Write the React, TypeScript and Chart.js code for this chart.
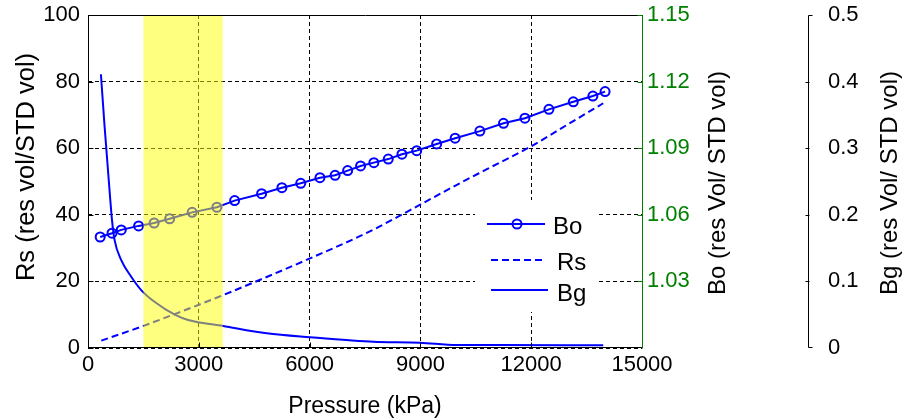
import React, { useEffect, useRef } from 'react';
import { Chart, registerables } from 'chart.js';

Chart.register(...registerables);

// ---- data ----
const pressureBo = [330, 650, 900, 1370, 1790, 2210, 2820, 3490, 3970, 4700, 5250, 5760, 6280, 6690, 7030, 7380, 7740, 8130, 8500, 8900, 9440, 9940, 10610, 11250, 11830, 12480, 13140, 13670, 14000];
const boValues = [1.05, 1.0517, 1.0532, 1.055, 1.0563, 1.0582, 1.0611, 1.0634, 1.0664, 1.0695, 1.0722, 1.0742, 1.0767, 1.0778, 1.0799, 1.082, 1.0835, 1.0851, 1.0873, 1.0889, 1.0919, 1.0945, 1.0977, 1.1012, 1.1035, 1.1075, 1.1109, 1.1135, 1.1155];

const pressureRs = [360, 1440, 2400, 3660, 4660, 6010, 7630, 8720, 10070, 10800, 11970, 13000, 13950];
const rsValues = [2.2, 6.4, 10.4, 15.9, 20.5, 26.9, 35.0, 41.4, 49.5, 53.7, 60.4, 67.2, 73.5];

const pressureBg = [350, 450, 590, 650, 720, 900, 1170, 1440, 1810, 2350, 2710, 3660, 4840, 6010, 7000, 7730, 8990, 9980, 11150, 13950];
const bgValues = [0.411, 0.332, 0.232, 0.192, 0.162, 0.132, 0.107, 0.087, 0.069, 0.05, 0.042, 0.033, 0.022, 0.016, 0.012, 0.0095, 0.008, 0.0045, 0.0045, 0.004];

const pressureTicks = [0, 3000, 6000, 9000, 12000, 15000];
const rsTicks = [0, 20, 40, 60, 80, 100];
const boTicks = [1.03, 1.06, 1.09, 1.12, 1.15];
const bgTicks = [0, 0.1, 0.2, 0.3, 0.4, 0.5];
const highlightRange = [1500, 3650];

const seriesLabels = ['Bo', 'Rs', 'Bg'];
const xTitle = 'Pressure (kPa)';
const rsTitle = 'Rs (res vol/STD vol)';
const boTitle = 'Bo (res Vol/ STD vol)';
const bgTitle = 'Bg (res Vol/ STD vol)';

const FONT = '"Liberation Sans", Arial, Helvetica, sans-serif';
const BLUE = '#0000ff';
const GREEN = '#008000';

const noPad = (s: any) => {
  s.paddingTop = 0;
  s.paddingBottom = 0;
};

const overlayPlugin = {
  id: 'overlay',
  afterDatasetsDraw(chart: any) {
    const { ctx, chartArea: a, scales } = chart;
    const x1 = scales.x.getPixelForValue(highlightRange[0]);
    const x2 = scales.x.getPixelForValue(highlightRange[1]);
    ctx.save();
    ctx.fillStyle = 'rgba(255,255,0,0.5)';
    ctx.fillRect(x1, a.top, x2 - x1, a.bottom - a.top);
    ctx.restore();
  },
  afterDraw(chart: any) {
    const { ctx, chartArea: a, scales } = chart;
    const L = Math.round(a.left) + 0.5;
    const R = Math.round(a.right) + 0.5;
    const T = Math.round(a.top) + 0.5;
    const B = Math.round(a.bottom) - 0.5;
    ctx.save();
    ctx.setLineDash([]);
    ctx.lineWidth = 1;
    // axes box
    ctx.strokeStyle = '#000';
    ctx.beginPath();
    ctx.moveTo(R, T); ctx.lineTo(L, T); ctx.lineTo(L, B); ctx.lineTo(R, B);
    ctx.stroke();
    // inward tick marks
    ctx.beginPath();
    rsTicks.forEach((v) => {
      const y = Math.round(scales.y.getPixelForValue(v)) + 0.5;
      ctx.moveTo(L, y); ctx.lineTo(L + 5, y);
    });
    pressureTicks.forEach((v) => {
      const x = Math.round(scales.x.getPixelForValue(v)) + 0.5;
      ctx.moveTo(x, B); ctx.lineTo(x, B - 5);
    });
    ctx.stroke();
    // green Bo axis
    ctx.strokeStyle = GREEN;
    ctx.beginPath();
    ctx.moveTo(R, T); ctx.lineTo(R, B + 1);
    boTicks.forEach((v) => {
      const y = Math.round(scales.yBo.getPixelForValue(v)) + 0.5;
      ctx.moveTo(R, y); ctx.lineTo(R - 5, y);
    });
    ctx.stroke();
    // detached Bg axis
    const gx = Math.round(scales.yBg.left) + 0.5;
    const gTop = Math.round(scales.yBg.getPixelForValue(0.5)) + 0.5;
    const gBot = Math.round(scales.yBg.getPixelForValue(0)) - 0.5;
    ctx.strokeStyle = '#000';
    ctx.beginPath();
    ctx.moveTo(gx + 4, gTop); ctx.lineTo(gx, gTop); ctx.lineTo(gx, gBot); ctx.lineTo(gx + 4, gBot);
    bgTicks.slice(1, -1).forEach((v) => {
      const y = Math.round(scales.yBg.getPixelForValue(v)) + 0.5;
      ctx.moveTo(gx - 3, y); ctx.lineTo(gx + 1, y);
    });
    ctx.stroke();

    // legend
    ctx.fillStyle = '#fff';
    ctx.fillRect(475, 200, 122, 112);
    ctx.strokeStyle = BLUE;
    ctx.lineWidth = 2;
    ctx.beginPath();
    ctx.moveTo(487, 224); ctx.lineTo(545, 224);
    ctx.stroke();
    ctx.beginPath();
    ctx.arc(517, 224, 4.5, 0, Math.PI * 2);
    ctx.stroke();
    ctx.setLineDash([7, 4]);
    ctx.beginPath();
    ctx.moveTo(491, 260); ctx.lineTo(545, 260);
    ctx.stroke();
    ctx.setLineDash([]);
    ctx.beginPath();
    ctx.moveTo(491, 290); ctx.lineTo(548, 290);
    ctx.stroke();
    ctx.fillStyle = '#000';
    ctx.font = `24px ${FONT}`;
    ctx.textAlign = 'left';
    ctx.textBaseline = 'alphabetic';
    ctx.fillText(seriesLabels[0], 553, 234);
    ctx.fillText(seriesLabels[1], 557, 270);
    ctx.fillText(seriesLabels[2], 557, 301);

    // axis titles
    ctx.textAlign = 'center';
    ctx.font = `23px ${FONT}`;
    ctx.fillText(xTitle, (a.left + a.right) / 2, 413);
    const vtitle = (text: string, x: number, y: number, size: number) => {
      ctx.save();
      ctx.translate(x, y);
      ctx.rotate(-Math.PI / 2);
      ctx.font = `${size}px ${FONT}`;
      ctx.fillText(text, 0, 0);
      ctx.restore();
    };
    vtitle(rsTitle, 34, 167, 25.5);
    vtitle(boTitle, 725, 183, 24);
    vtitle(bgTitle, 897, 183, 24);
    ctx.restore();
  },
};

export default function App() {
  const ref = useRef<HTMLCanvasElement | null>(null);
  useEffect(() => {
    if (!ref.current) return;
    const tickFont = { family: FONT, size: 22 };
    const chart = new Chart(ref.current, {
      type: 'line',
      data: {
        datasets: [
          {
            label: seriesLabels[0],
            data: pressureBo.map((p, i) => ({ x: p, y: boValues[i] })),
            yAxisID: 'yBo',
            borderColor: BLUE,
            borderWidth: 2,
            pointRadius: 4.5,
            pointBorderWidth: 2,
            pointBorderColor: BLUE,
            pointBackgroundColor: 'rgba(0,0,0,0)',
            fill: false,
          },
          {
            label: seriesLabels[1],
            data: pressureRs.map((p, i) => ({ x: p, y: rsValues[i] })),
            yAxisID: 'y',
            borderColor: BLUE,
            borderWidth: 2,
            borderDash: [7, 4],
            pointRadius: 0,
            cubicInterpolationMode: 'monotone',
            fill: false,
          },
          {
            label: seriesLabels[2],
            data: pressureBg.map((p, i) => ({ x: p, y: bgValues[i] })),
            yAxisID: 'yBg',
            borderColor: BLUE,
            borderWidth: 2,
            pointRadius: 0,
            cubicInterpolationMode: 'monotone',
            fill: false,
          },
        ],
      },
      options: {
        responsive: false,
        animation: false,
        devicePixelRatio: 1,
        layout: { padding: { top: 15, left: 0, right: 0, bottom: 0 } },
        plugins: { legend: { display: false }, tooltip: { enabled: false } },
        scales: {
          x: {
            type: 'linear',
            min: 0,
            max: 15000,
            afterBuildTicks: (s: any) => { s.ticks = pressureTicks.map((v) => ({ value: v })); },
            afterFit: (s: any) => { s.height = 72; s.paddingLeft = 0; s.paddingRight = 0; },
            ticks: { font: tickFont, color: '#000', padding: 4, maxRotation: 0, autoSkip: false, callback: (v: any) => String(v) },
            grid: { color: '#000', lineWidth: 1, drawTicks: false },
            border: { display: false, dash: [4, 3] },
          },
          y: {
            type: 'linear',
            position: 'left',
            min: 0,
            max: 100,
            afterBuildTicks: (s: any) => { s.ticks = rsTicks.map((v) => ({ value: v })); },
            afterFit: (s: any) => { s.width = 88; noPad(s); },
            ticks: { font: tickFont, color: '#000', padding: 8, callback: (v: any) => String(v) },
            grid: { color: '#000', lineWidth: 1, drawTicks: false },
            border: { display: false, dash: [4, 3] },
          },
          yBo: {
            type: 'linear',
            position: 'right',
            weight: 0,
            min: 1.0,
            max: 1.15,
            afterBuildTicks: (s: any) => { s.ticks = boTicks.map((v) => ({ value: v })); },
            afterFit: (s: any) => { s.width = 166; noPad(s); },
            ticks: { font: tickFont, color: GREEN, padding: 5, callback: (v: any) => Number(v).toFixed(2) },
            grid: { display: false, drawTicks: false },
            border: { display: false },
          },
          yBg: {
            type: 'linear',
            position: 'right',
            weight: 1,
            min: 0,
            max: 0.5,
            afterBuildTicks: (s: any) => { s.ticks = bgTicks.map((v) => ({ value: v })); },
            afterFit: (s: any) => { s.width = 106; noPad(s); },
            ticks: { font: tickFont, color: '#000', padding: 20, callback: (v: any) => (v === 0 ? '0' : Number(v).toFixed(1)) },
            grid: { display: false, drawTicks: false },
            border: { display: false },
          },
        },
      } as any,
      plugins: [overlayPlugin],
    });
    return () => chart.destroy();
  }, []);

  return (
    <div style={{ position: 'absolute', left: 0, top: 0, width: 914, height: 420, background: '#fff' }}>
      <canvas ref={ref} width={914} height={420} style={{ display: 'block' }} />
    </div>
  );
}
